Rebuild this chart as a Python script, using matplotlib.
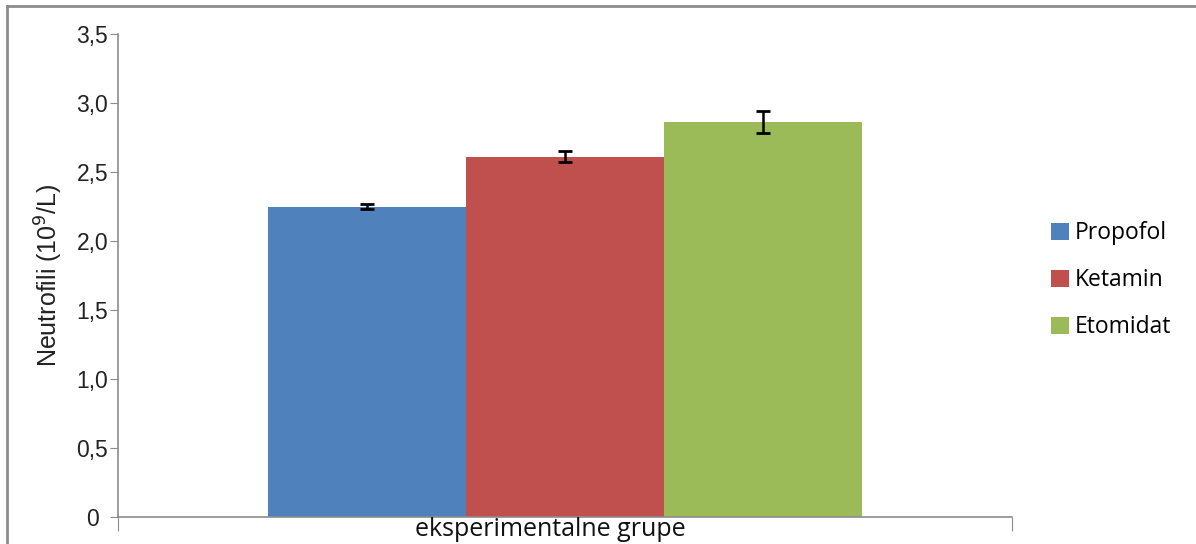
import matplotlib
matplotlib.use("Agg")
import matplotlib.pyplot as plt
from matplotlib.lines import Line2D

groups = ["Propofol", "Ketamin", "Etomidat"]
values = [2.25, 2.61, 2.86]
errors = [0.02, 0.04, 0.08]
colors = ["#4F81BD", "#C0504D", "#9BBB59"]
yticks = [0, 0.5, 1.0, 1.5, 2.0, 2.5, 3.0, 3.5]
ytick_labels = ["0", "0,5", "1,0", "1,5", "2,0", "2,5", "3,0", "3,5"]
category = "eksperimentalne grupe"
ylabel = "Neutrofili (10$^{9}$/L)"

W, H = 1196, 544
fig = plt.figure(figsize=(W / 100, H / 100), dpi=100)
# outer frame (top and left visible only)
fig.lines.append(Line2D([7 / W, 1.0], [1 - 6 / H, 1 - 6 / H], transform=fig.transFigure,
                        color="#8c8c8c", lw=2))
fig.lines.append(Line2D([7 / W, 7 / W], [0, 1 - 6 / H], transform=fig.transFigure,
                        color="#8c8c8c", lw=2))

ax = fig.add_axes([118 / W, 27 / H, (1012 - 118) / W, (517 - 34) / H])

bw = 198 / 894
offsets = [-bw, 0, bw]
for i, (g, v, e, c) in enumerate(zip(groups, values, errors, colors)):
    ax.bar(offsets[i], v, width=bw, color=c, label=g, zorder=2)
    ax.errorbar(offsets[i], v, yerr=e, fmt="none", ecolor="black",
                elinewidth=1.8, capsize=5, capthick=2, zorder=3)

ax.set_xlim(-0.5, 0.5)
ax.set_ylim(0, 3.5)
ax.set_yticks(yticks)
ax.set_yticklabels(ytick_labels, fontsize=16.5, family="Liberation Sans", color="#222222",
                   ha="center")
ax.set_xticks([-0.5, 0.5])
ax.set_xticklabels(["", ""])
ax.tick_params(axis="y", direction="out", length=6, color="#8c8c8c", pad=12.5)
ax.tick_params(axis="x", direction="out", length=10, color="#8c8c8c")
for s in ["top", "right"]:
    ax.spines[s].set_visible(False)
for s in ["left", "bottom"]:
    ax.spines[s].set_color("#8c8c8c")
    ax.spines[s].set_linewidth(1.2)

ax.set_ylabel(ylabel, fontsize=18, family="Liberation Sans", color="#222222", labelpad=8)
fig.text(550 / W, 1 - 530 / H, category, ha="center", va="center",
         fontsize=18, family="Open Sans", color="#111111")

leg = ax.legend(loc="center left", bbox_to_anchor=(1.021, 0.49), frameon=False,
                prop={"family": "Open Sans", "size": 16.5},
                handlelength=0.75, handleheight=0.75, handletextpad=0.25,
                labelspacing=1.0)

fig.savefig("out.png", dpi=100)
